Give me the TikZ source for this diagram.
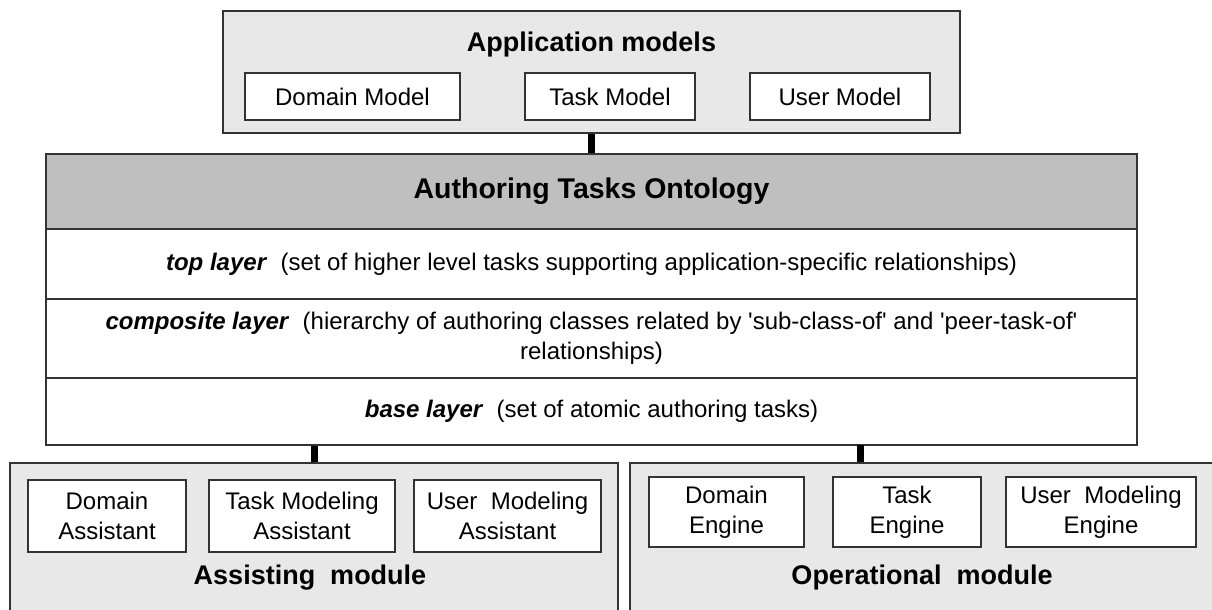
\documentclass[tikz,border=0pt]{standalone}
\usepackage{fontspec}
\setmainfont{Liberation Sans}
\usepackage{tikz}

\begin{document}
\begin{tikzpicture}[x=1pt, y=-1pt,
  box/.style={draw=black!80, line width=1.5pt, fill=white, align=center, inner sep=0pt},
  panel/.style={box, fill=black!9},
  head/.style={font=\fontsize{27}{31}\selectfont\bfseries},
  txt/.style={font=\fontsize{24}{30}\selectfont},
  link/.style={line width=7pt}]
  \clip (0,0) rectangle (1212,610);

  \node[panel, minimum width=737pt, minimum height=122pt] (A) at (591.5,72) {};
  \node[head] (E) at (591.5,45) {Application models};
  \node[box, txt, minimum width=215pt, minimum height=47pt] (B) at (352.5,96.5) {Domain Model};
  \node[box, txt, minimum width=170pt, minimum height=47pt] (C) at (610,96.5) {Task Model};
  \node[box, txt, minimum width=180pt, minimum height=47pt] (D) at (840,96.5) {User Model};

  \node[box, head, font=\fontsize{28.5}{32}\selectfont\bfseries, fill=black!25, minimum width=1091pt, minimum height=75pt] (F) at (591.5,191.5) {Authoring Tasks Ontology};
  \node[box, txt, minimum width=1091pt, minimum height=70pt] (G) at (591.5,264)
    {\textbf{\textit{top layer}}~ (set of higher level tasks supporting application-specific relationships)};
  \node[box, txt, minimum width=1091pt, minimum height=79pt] (H) at (591.5,338.5)
    {\textbf{\textit{composite layer}}~ (hierarchy of authoring classes related by \textquotesingle sub-class-of\textquotesingle\ and \textquotesingle peer-task-of\textquotesingle\\ relationships)};
  \node[box, txt, minimum width=1091pt, minimum height=67pt] (I) at (591.5,411.5)
    {\textbf{\textit{base layer}}~ (set of atomic authoring tasks)};

  \node[panel, minimum width=608pt, minimum height=157pt] (J) at (314,541.5) {};
  \node[panel, minimum width=600pt, minimum height=157pt] (K) at (930,541.5) {};

  \node[box, txt, minimum width=158pt, minimum height=72pt] (L) at (107,516) {Domain\\Assistant};
  \node[box, txt, minimum width=186pt, minimum height=72pt] (M) at (302,516) {Task Modeling\\Assistant};
  \node[box, txt, minimum width=187pt, minimum height=72pt] (N) at (507.5,516) {User~ Modeling\\Assistant};
  \node[head] (R) at (310,578) {Assisting~ module};

  \node[box, txt, minimum width=155pt, minimum height=70pt] (O) at (726.5,512) {Domain\\Engine};
  \node[box, txt, minimum width=148pt, minimum height=70pt] (P) at (907,512) {Task\\Engine};
  \node[box, txt, minimum width=190pt, minimum height=70pt] (Q) at (1101,512) {User~ Modeling\\Engine};
  \node[head] (S) at (922,578) {Operational~ module};

  \coordinate (T) at (860,445);
  \draw[link] (A) -- (F);
  \draw[link] (I.south -| J.north) -- (J.north);
  \draw[link] (T) -- (T |- K.north);
\end{tikzpicture}
\end{document}
